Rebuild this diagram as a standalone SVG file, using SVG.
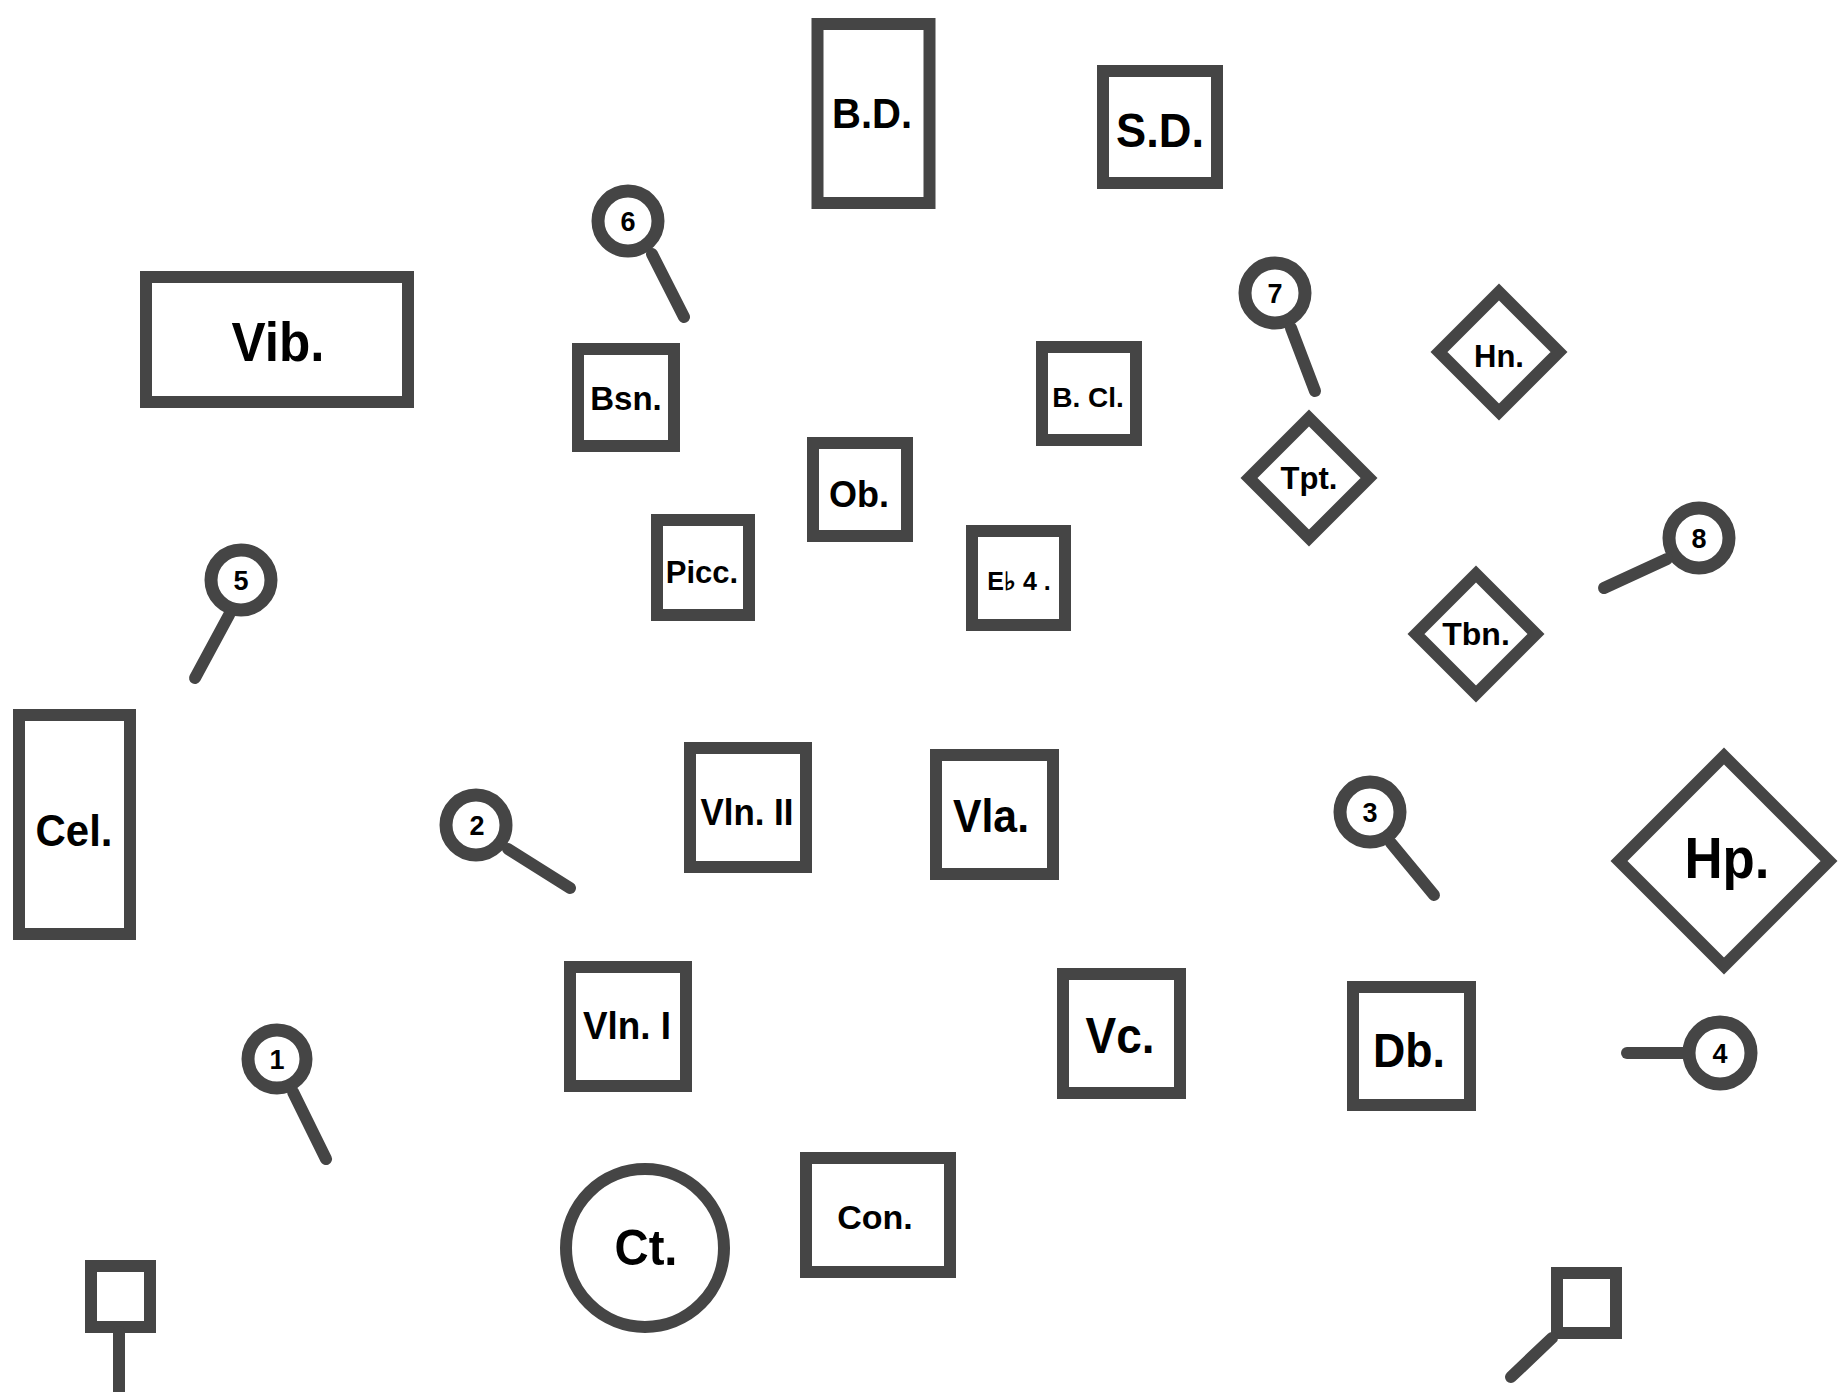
<svg xmlns="http://www.w3.org/2000/svg" width="1841" height="1392" viewBox="0 0 1841 1392">
<style>
.s{fill:none;stroke:#454545;stroke-width:12;stroke-linejoin:miter}
.c{fill:none;stroke:#454545;stroke-width:13}
.h{fill:none;stroke:#454545;stroke-width:12;stroke-linecap:round}
.t{font-family:"Liberation Sans",Arial,sans-serif;font-weight:bold;fill:#000;text-anchor:middle}
.n{font-family:"Liberation Sans",Arial,sans-serif;font-weight:bold;fill:#000;text-anchor:middle;font-size:27px}
</style>
<rect width="1841" height="1392" fill="#fff"/>
<g id="bd"><rect class="s" x="817.5" y="24" width="112" height="179"/><text class="t" x="872" y="128" font-size="43" textLength="80" lengthAdjust="spacingAndGlyphs">B.D.</text></g>
<g id="sd"><rect class="s" x="1103" y="71" width="114" height="112"/><text class="t" x="1160" y="147" font-size="48" textLength="88" lengthAdjust="spacingAndGlyphs">S.D.</text></g>
<g id="mic6"><circle class="c" cx="628" cy="221" r="30"/><line class="h" x1="652" y1="254" x2="684" y2="317"/><text class="n" x="628" y="231">6</text></g>
<g id="vib"><rect class="s" x="146" y="277" width="262" height="125"/><text class="t" x="278" y="361" font-size="56" textLength="93" lengthAdjust="spacingAndGlyphs">Vib.</text></g>
<g id="bsn"><rect class="s" x="578" y="349" width="96" height="97"/><text class="t" x="626" y="410" font-size="33">Bsn.</text></g>
<g id="bcl"><rect class="s" x="1042" y="347" width="94" height="93"/><text class="t" x="1088" y="407" font-size="28">B. Cl.</text></g>
<g id="mic7"><circle class="c" cx="1275" cy="293" r="30"/><line class="h" x1="1291" y1="328" x2="1315" y2="391"/><text class="n" x="1275" y="303">7</text></g>
<g id="hn"><path class="s" d="M1499 292 L1559 352 L1499 412 L1439 352 Z"/><text class="t" x="1499" y="367" font-size="31">Hn.</text></g>
<g id="tpt"><path class="s" d="M1309 418 L1369 478 L1309 538 L1249 478 Z"/><text class="t" x="1309" y="489" font-size="31">Tpt.</text></g>
<g id="ob"><rect class="s" x="813" y="443" width="94" height="93"/><text class="t" x="859" y="507" font-size="36">Ob.</text></g>
<g id="picc"><rect class="s" x="657" y="520" width="92" height="95"/><text class="t" x="702" y="583" font-size="31">Picc.</text></g>
<g id="ebcl"><rect class="s" x="972" y="531" width="93" height="94"/><text class="t" x="1019" y="590" font-size="25">E♭ 4 .</text></g>
<g id="mic8"><circle class="c" cx="1699" cy="538" r="30"/><line class="h" x1="1667" y1="559" x2="1604" y2="588"/><text class="n" x="1699" y="548">8</text></g>
<g id="tbn"><path class="s" d="M1476 574 L1536 634 L1476 694 L1416 634 Z"/><text class="t" x="1476" y="645" font-size="32">Tbn.</text></g>
<g id="mic5"><circle class="c" cx="241" cy="580" r="30"/><line class="h" x1="229" y1="615" x2="195" y2="678"/><text class="n" x="241" y="590">5</text></g>
<g id="cel"><rect class="s" x="19" y="715" width="111" height="219"/><text class="t" x="74" y="846" font-size="45" textLength="77" lengthAdjust="spacingAndGlyphs">Cel.</text></g>
<g id="mic2"><circle class="c" cx="476" cy="825" r="30"/><line class="h" x1="508" y1="849" x2="570" y2="888"/><text class="n" x="477" y="835">2</text></g>
<g id="vln2"><rect class="s" x="690" y="748" width="116" height="119"/><text class="t" x="747" y="825" font-size="37" textLength="93" lengthAdjust="spacingAndGlyphs">Vln. II</text></g>
<g id="vla"><rect class="s" x="936" y="755" width="117" height="119"/><text class="t" x="991" y="832" font-size="46" textLength="76" lengthAdjust="spacingAndGlyphs">Vla.</text></g>
<g id="mic3"><circle class="c" cx="1370" cy="812" r="30"/><line class="h" x1="1391" y1="843" x2="1434" y2="895"/><text class="n" x="1370" y="822">3</text></g>
<g id="hp"><path class="s" d="M1724 756 L1829 861 L1724 966 L1619 861 Z"/><text class="t" x="1727" y="878" font-size="57" textLength="85" lengthAdjust="spacingAndGlyphs">Hp.</text></g>
<g id="vln1"><rect class="s" x="570" y="967" width="116" height="119"/><text class="t" x="627" y="1039" font-size="39" textLength="88" lengthAdjust="spacingAndGlyphs">Vln. I</text></g>
<g id="vc"><rect class="s" x="1063" y="974" width="117" height="119"/><text class="t" x="1120" y="1053" font-size="50" textLength="69" lengthAdjust="spacingAndGlyphs">Vc.</text></g>
<g id="db"><rect class="s" x="1353" y="987" width="117" height="118"/><text class="t" x="1409" y="1067" font-size="48" textLength="72" lengthAdjust="spacingAndGlyphs">Db.</text></g>
<g id="mic4"><circle class="c" cx="1720" cy="1053" r="31"/><line class="h" x1="1686" y1="1053" x2="1627" y2="1053"/><text class="n" x="1720" y="1063">4</text></g>
<g id="mic1"><circle class="c" cx="277" cy="1059" r="29"/><line class="h" x1="293" y1="1092" x2="326" y2="1159"/><text class="n" x="277" y="1069">1</text></g>
<g id="ct"><circle class="s" cx="645" cy="1248" r="79"/><text class="t" x="646" y="1265" font-size="50" textLength="63" lengthAdjust="spacingAndGlyphs">Ct.</text></g>
<g id="con"><rect class="s" x="806" y="1158" width="144" height="114"/><text class="t" x="875" y="1229" font-size="34">Con.</text></g>
<g id="spk1"><rect class="s" x="91" y="1266" width="59" height="61"/><line class="h" x1="119" y1="1332" x2="119" y2="1398"/></g>
<g id="spk2"><rect class="s" x="1557" y="1273" width="59" height="60"/><line class="h" x1="1552" y1="1338" x2="1511" y2="1377"/></g>
<g id="connectors"/>
</svg>
